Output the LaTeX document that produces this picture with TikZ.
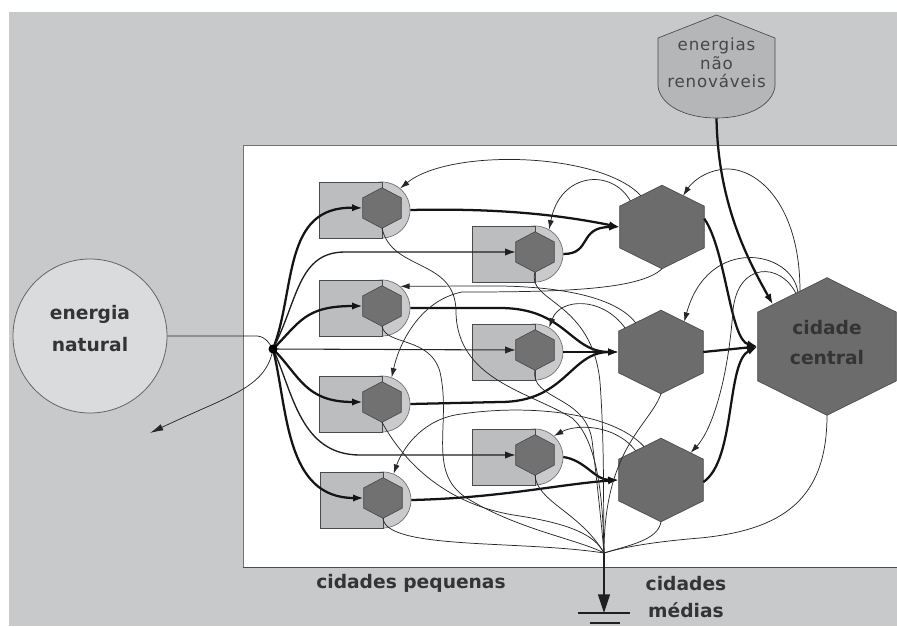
\documentclass[tikz,border=0pt]{standalone}
\usepackage{fontspec}
\usetikzlibrary{calc,arrows.meta}
\newfontfamily\lblfont{DejaVu Sans}
\newfontfamily\enfont{DejaVu Sans}[LetterSpace=5]
\definecolor{bggray}{HTML}{C8C9CB}
\definecolor{ncirc}{HTML}{DADBDD}
\definecolor{unitrect}{HTML}{BCBDBF}
\definecolor{unitcirc}{HTML}{CACACC}
\definecolor{hexdark}{HTML}{717171}
\definecolor{hexmed}{HTML}{6C6C6C}
\definecolor{shieldc}{HTML}{B5B6B8}
\definecolor{edgec}{HTML}{4A4A4A}
\definecolor{txt}{HTML}{343434}
\definecolor{lnc}{HTML}{262626}
\newcommand\hexn[5]{%
  \node[inner sep=0pt, minimum width=#3, minimum height=#4] (#1) at #2 {};
  \coordinate (#1-ne) at ($(#1.north east)!.25!(#1.south east)$);
  \coordinate (#1-se) at ($(#1.north east)!.75!(#1.south east)$);
  \coordinate (#1-sw) at ($(#1.north west)!.75!(#1.south west)$);
  \coordinate (#1-nw) at ($(#1.north west)!.25!(#1.south west)$);
  \filldraw[fill=#5, draw=edgec, line width=0.5pt] (#1.north) -- (#1-ne) -- (#1-se) -- (#1.south) -- (#1-sw) -- (#1-nw) -- cycle;
}
\newcommand\smallcity[2]{%
  \node[circle, minimum size=42pt, inner sep=0pt, fill=unitcirc, draw=edgec!80, line width=0.5pt] (#1c) at ($#2+(0,2)$) {};
  \filldraw[fill=unitrect, draw=edgec, line width=0.6pt] ($#2+(-63,-26)$) rectangle ($#2+(0,30)$);
  \hexn{#1}{#2}{28.5pt}{30pt}{hexdark}
}
\begin{document}
\begin{tikzpicture}[x=0.75pt,y=-0.75pt,
  thickln/.style={line width=1.7pt, draw=black!92},
  medln/.style={line width=1.0pt, draw=black!88},
  thinln/.style={line width=0.55pt, draw=lnc},
  tipA/.style={-{Latex[length=8pt,width=5.5pt]}},
  tipB/.style={-{Latex[length=7pt,width=4.5pt]}},
  bigtxt/.style={font=\lblfont\bfseries\fontsize{14}{23}\selectfont, text=txt, align=center, inner sep=0pt}]
\useasboundingbox (0,0) rectangle (897,626);
\fill[white] (0,0) rectangle (897,626);
\fill[bggray] (9,12) rectangle (897,626);
\filldraw[fill=white, draw=black!55, line width=0.6pt] (243,145) rectangle (897.5,567);
\draw[black!70, line width=0.7pt] (243,567) -- (897,567);

% energia natural
\node[circle, minimum size=115.5pt, inner sep=0pt, fill=ncirc, draw=edgec!85, line width=0.6pt] (N) at (90,336) {};
\node[bigtxt, font=\lblfont\bfseries\fontsize{14}{24}\selectfont] (Nt) at (90,329) {energia\\natural};

% energias nao renovaveis
\node[inner sep=0pt, minimum width=87.75pt, minimum height=77.25pt] (E) at (716.5,66.5) {};
\filldraw[fill=shieldc, draw=edgec, line width=0.5pt] (716.5,15) -- (775,38) -- (775,86) .. controls (773,105) and (748,118) .. (716.5,118) .. controls (685,118) and (660,105) .. (658,86) -- (658,38) -- cycle;
\node[font=\enfont\fontsize{12.5}{14}\selectfont, text=black!72, align=center, inner sep=0pt] (Et) at (716.5,63) {energias\\não\\renováveis};

% small cities
\smallcity{L1}{(382,208)}
\smallcity{R1}{(535,252)}
\smallcity{L2}{(382,306)}
\smallcity{R2}{(535,350)}
\smallcity{L3}{(382,402)}
\smallcity{R3}{(535,455)}
\smallcity{L4}{(383,498)}

% medium and central cities
\hexn{M1}{(662,227)}{63pt}{62.25pt}{hexmed}
\hexn{M2}{(661,352)}{63pt}{62.25pt}{hexmed}
\hexn{M3}{(661,480)}{63pt}{62.25pt}{hexmed}
\hexn{C}{(827,346.5)}{103.5pt}{102.75pt}{hexmed}

\coordinate (hub) at (273,349);
\coordinate (out) at (150,433);
\coordinate (sink) at (604,553);
\coordinate (gnd) at (604,613);

% inflow energia natural
\draw[thinln] (N.east) -- ++(90,0) .. controls (266,337) and (269,343) .. (hub);
\draw[thinln, -{Latex[length=10pt,width=5pt]}] (hub) .. controls (266,388) and (230,395) .. (out);

% hub to small cities
\draw[thickln, tipA] (hub) .. controls (296,290) and (282,206) .. (L1.west);
\draw[medln, tipA] (hub) .. controls (298,300) and (298,252) .. (345,252) -- (R1.west);
\draw[thickln, tipA] (hub) .. controls (300,322) and (305,306) .. (L2.west);
\draw[thinln, line width=0.8pt, tipA] (hub) -- (R2.west);
\draw[thickln, tipA] (hub) .. controls (300,376) and (305,402) .. (L3.west);
\draw[medln, tipA] (hub) .. controls (293,392) and (300,455) .. (360,455) -- (R3.west);
\draw[thickln, tipA] (hub) .. controls (288,410) and (285,498) .. (L4.west);
\fill[black] (hub) circle (4.5);

% small to medium
\draw[thickln, tipA] (L1c.east) .. controls (500,208) and (560,215) .. (M1.west);
\draw[thickln, tipA] (R1c.east) .. controls (592,254) and (578,227) .. (M1.west);
\draw[thickln, tipA] (L2c.east) -- (500,308) .. controls (566,308) and (570,352) .. (M2.west);
\draw[thickln, tipA] (R2c.east) -- (M2.west);
\draw[thickln, tipA] (L3c.east) -- (500,402) .. controls (566,402) and (570,352) .. (M2.west);
\draw[thickln, tipA] (L4c.east) .. controls (500,498) and (560,484) .. (M3.west);
\draw[thickln, tipA] (R3c.east) .. controls (585,460) and (595,480) .. (M3.west);

% medium to central
\draw[thickln, tipA] ($(M1-ne)!0.3!(M1-se)$) .. controls (726,250) and (730,340) .. (C.west);
\draw[thickln, tipA] (M2.east) -- (C.west);
\draw[thickln, tipA] ($(M3-ne)!0.55!(M3-se)$) .. controls (736,460) and (726,362) .. (C.west);
\draw[thickln, tipA] (E.south) .. controls (718,200) and (745,255) .. ($(C.north)!0.78!(C-nw)$);

% feedback from central city
\draw[thinln, tipB] ($(C.north)!0.39!(C-nw)$) .. controls (800,205) and (758,168) .. (726,169) .. controls (706,170) and (692,182) .. ($(M1.north)!0.5!(M1-ne)$);
\draw[thinln, tipB] ($(C.north)!0.42!(C-nw)$) .. controls (792,250) and (708,235) .. ($(M2.north)!0.55!(M2-ne)$);
\draw[thinln, tipB] ($(C.north)!0.45!(C-nw)$) .. controls (780,262) and (738,262) .. (733,310) .. controls (728,380) and (712,430) .. ($(M3.north)!0.7!(M3-ne)$);

% feedback from medium cities
\draw[thinln, tipB] ($(M1.north)!0.5!(M1-nw)$) .. controls (600,152) and (450,148) .. (L1c.50);
\draw[thinln, tipB] ($(M1.north)!0.75!(M1-nw)$) .. controls (612,168) and (560,172) .. (R1c.60);
\draw[thinln, tipB] ($(M2.north)!0.6!(M2-nw)$) .. controls (612,292) and (540,285) .. (480,286) -- (L2c.50);
\draw[thinln, tipB] (M1.south) .. controls (640,290) and (560,292) .. (462,292) .. controls (422,300) and (400,340) .. (L3c.70);
\draw[thinln, tipB] ($(M2.north)!0.85!(M2-nw)$) .. controls (602,296) and (560,298) .. (R2c.60);
\draw[thinln, tipB] ($(M3.north)!0.4!(M3-nw)$) .. controls (610,410) and (520,404) .. (455,415) .. controls (420,422) and (402,450) .. (L4c.68);
\draw[thinln, tipB] ($(M3.north)!0.6!(M3-nw)$) .. controls (615,424) and (576,424) .. (R3c.48);

% outflows to the sink
\draw[thinln] (L1.south) .. controls (392,272) and (456,258) .. (456,312) .. controls (457,380) and (530,392) .. (572,418) .. controls (598,440) and (603,500) .. (sink);
\draw[thinln] (L2.south) .. controls (386,346) and (430,336) .. (440,372) .. controls (452,425) and (425,475) .. (470,500) .. controls (520,530) and (580,540) .. (sink);
\draw[thinln] (L3.south) .. controls (400,455) and (440,505) .. (520,516) .. controls (570,524) and (595,535) .. (sink);
\draw[thinln] (L4.south) .. controls (386,550) and (520,540) .. (sink);
\draw[thinln] (R1.south) .. controls (526,302) and (592,300) .. (600,382) .. controls (605,450) and (603,520) .. (sink);
\draw[thinln] (R2.south) .. controls (530,400) and (585,395) .. (592,440) .. controls (598,490) and (602,530) .. (sink);
\draw[thinln] (R3.south) .. controls (537,502) and (580,512) .. (sink);
\draw[thinln] (M2.south) .. controls (650,425) and (604,448) .. (sink);
\draw[thinln] (M3.south) .. controls (658,540) and (630,545) .. (sink);
\draw[thinln] (C.south) .. controls (827,500) and (782,530) .. (700,538) .. controls (650,542) and (620,548) .. (sink);

% ground
\draw[medln, -{Triangle[length=14pt,width=9pt]}] (sink) -- (gnd);
\draw[medln] ($(gnd)+(-26,0)$) -- ($(gnd)+(26,0)$);
\draw[medln] ($(gnd)+(-14,10)$) -- ($(gnd)+(16,10)$);

% labels
\node[bigtxt] (Ct) at (827,342.5) {cidade\\central};
\node[bigtxt] (cp) at (411,583) {cidades pequenas};
\node[bigtxt, font=\lblfont\bfseries\fontsize{14}{20}\selectfont] (cm) at (686,597) {cidades\\médias};
\end{tikzpicture}
\end{document}
